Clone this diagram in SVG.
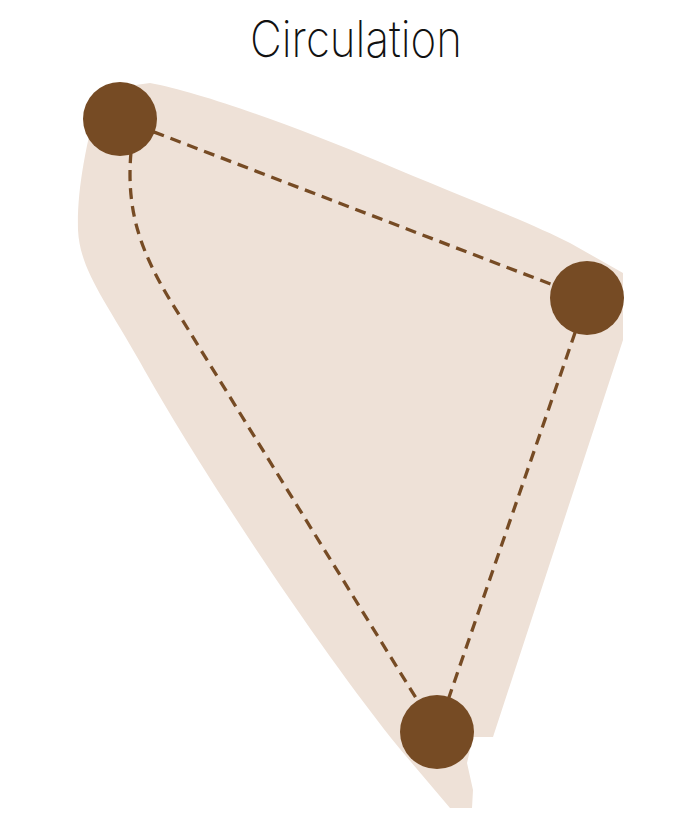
<svg xmlns="http://www.w3.org/2000/svg" width="695" height="820" viewBox="0 0 695 820">
<style>
.title{font-family:Inter,"Liberation Sans",sans-serif;font-weight:200;font-size:50px;fill:#111;}
.node{fill:#764B24;}
.link{fill:none;stroke:#764B24;stroke-width:3.3;stroke-dasharray:11 7;}
</style>
<rect width="695" height="820" fill="#fff"/>
<g id="area">
<path fill="#EEE1D7" d="M100,90 L150,83 C200,92 300,128 380,162 C450,192 530,222 570,243 L623,273 L623,340 L493,737 L473,737 L467,763 L473,790 L472,808 L450,808 L400,749 C320,650 200,470 140,362 C105,300 80,270 78,230 C77,190 85,150 100,90 Z"/>
</g>
<text id="title" class="title" x="356" y="57" text-anchor="middle" textLength="212" lengthAdjust="spacingAndGlyphs">Circulation</text>
<g id="connectors">
<line class="link" x1="120" y1="119" x2="587" y2="298"/>
<line class="link" x1="587" y1="298" x2="437" y2="732"/>
<path class="link" d="M131,152 C126,210 140,250 170,300 L437,732"/>
</g>
<g id="node-a"><circle class="node" cx="120" cy="119" r="37"/></g>
<g id="node-b"><circle class="node" cx="587" cy="298" r="37"/></g>
<g id="node-c"><circle class="node" cx="437" cy="732" r="37"/></g>
</svg>
